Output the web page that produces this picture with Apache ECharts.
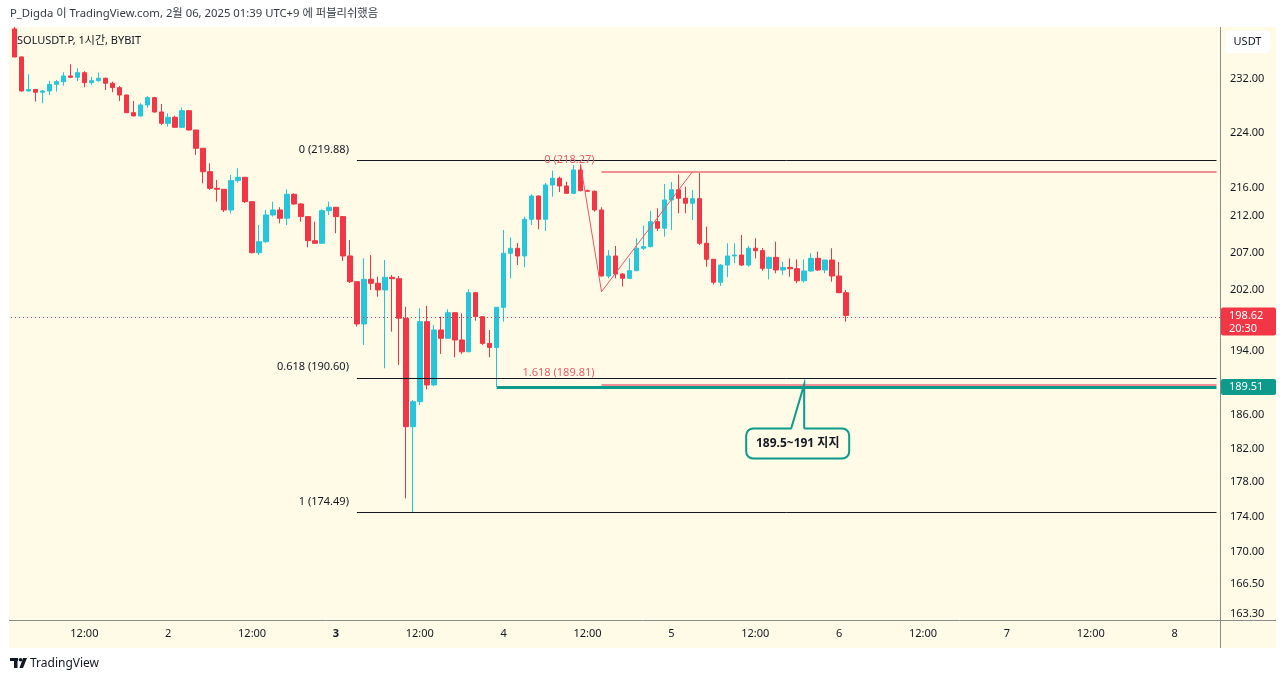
<!DOCTYPE html>
<html>
<head>
<meta charset="utf-8">
<script src="https://cdn.jsdelivr.net/npm/echarts@6/dist/echarts.min.js"></script>
<style>html,body{margin:0;padding:0;background:#fff}#c{width:1280px;height:681px}</style>
</head>
<body>
<div id="c"></div>
<script>
// ---------- data ----------
const startTime = Date.UTC(2025, 1, 1, 2);   // first candle: Feb 1, 02:00
const hourCount = 173;                          // hourly slots shown (to Feb 8, 06:00)
const weekStartDay = 3;                         // Feb 3 (Monday) label is bold
// [open, high, low, close]
const candles = [
 [239.75,240.07,235.30,235.38],[235.38,235.45,230.10,230.18],[230.18,232.72,230.10,230.40],[230.40,230.50,228.57,229.98],
 [229.98,230.33,228.32,230.18],[230.18,231.74,229.57,231.19],[231.19,231.85,230.08,231.59],[231.59,233.02,230.98,232.46],
 [232.46,234.25,232.20,232.26],[232.26,233.64,231.70,232.96],[232.96,233.20,230.74,231.44],[231.44,232.35,231.09,231.74],
 [231.74,232.96,231.59,232.11],[232.11,232.20,230.33,231.35],[231.35,231.59,229.98,230.68],[230.68,230.93,228.67,229.57],
 [229.57,229.62,226.85,226.92],[226.92,228.67,226.40,226.43],[226.43,228.32,226.35,228.07],[228.07,229.42,227.66,229.17],
 [229.17,229.30,226.95,227.02],[227.02,228.22,225.09,225.34],[225.34,226.83,224.84,226.23],[226.23,226.47,224.65,224.75],
 [224.75,227.66,224.65,227.22],[227.22,227.30,224.30,224.35],[224.35,224.40,220.70,221.67],[221.67,221.70,216.63,218.29],
 [218.29,219.50,215.68,215.92],[215.92,217.11,214.03,215.78],[215.78,215.80,212.59,212.87],[212.87,217.82,212.40,217.01],
 [217.01,218.78,216.72,217.49],[217.49,217.50,213.85,214.03],[214.03,214.05,206.87,206.98],[206.98,210.78,206.66,208.48],
 [208.48,212.87,208.30,212.17],[212.17,214.03,211.94,212.87],[212.87,213.25,211.01,211.71],[211.71,215.78,210.78,215.07],
 [215.07,215.21,213.60,213.71],[213.71,213.80,211.24,211.94],[211.94,212.00,207.71,208.62],[208.62,211.24,208.20,208.26],
 [208.26,212.97,208.20,212.77],[212.77,214.03,212.17,213.25],[213.25,213.30,209.64,211.94],[211.94,212.00,205.85,206.53],
 [206.53,208.71,202.90,203.07],[203.07,203.10,197.16,197.51],[197.51,206.22,194.80,203.39],[203.39,206.66,201.97,202.86],
 [202.86,203.74,201.08,201.97],[201.97,205.98,191.84,203.66],[203.66,203.96,196.51,203.47],[203.47,203.83,192.26,198.25],
 [198.25,199.75,176.13,184.62],[184.62,187.89,174.49,187.68],[187.68,199.57,187.27,197.81],[197.81,199.86,189.21,189.75],
 [189.75,197.38,189.60,196.73],[196.73,198.46,193.66,195.66],[195.66,199.42,195.60,198.98],[198.98,199.00,193.24,195.44],
 [195.44,198.90,193.66,193.93],[193.93,202.06,193.90,201.61],[201.61,201.70,197.94,198.46],[198.46,198.50,194.80,195.00],
 [195.00,196.73,193.24,194.49],[194.49,199.70,189.51,199.68],[199.68,210.09,197.81,206.90],[206.90,209.08,203.52,207.58],
 [207.58,208.30,205.30,206.53],[206.53,211.94,204.99,211.57],[211.57,215.07,210.78,214.83],[214.83,214.90,210.19,211.57],
 [211.57,216.67,209.95,216.39],[216.39,218.44,214.73,217.35],[217.35,217.58,215.39,216.25],[216.25,216.86,215.15,215.21],
 [215.21,219.26,215.10,218.54],[218.54,219.33,215.50,215.58],[215.58,215.73,215.40,215.50],[215.50,215.60,212.63,212.87],
 [212.87,213.25,203.80,203.83],[203.83,207.34,203.52,206.53],[206.53,207.89,203.52,204.10],[204.10,204.20,202.41,203.52],
 [203.52,206.21,203.45,204.54],[204.54,208.94,204.50,207.58],[207.58,210.71,207.34,207.80],[207.80,212.75,207.70,211.24],
 [211.24,213.11,209.95,210.33],[210.33,216.53,209.17,214.27],[214.27,216.82,210.09,215.71],[215.71,217.89,212.40,214.51],
 [214.51,216.17,212.40,213.81],[213.81,215.68,211.47,214.45],[214.45,218.27,208.03,208.26],[208.26,210.55,205.07,206.08],
 [206.08,206.10,202.70,203.00],[203.00,205.40,202.50,205.30],[205.30,208.26,203.66,206.53],[206.53,208.26,205.55,206.66],
 [206.66,209.40,205.20,205.30],[205.30,207.89,205.07,207.58],[207.58,208.94,206.21,207.25],[207.25,207.61,204.54,204.86],
 [204.86,206.44,203.39,206.35],[206.35,208.48,204.20,204.64],[204.64,205.73,203.96,204.99],[204.99,206.21,203.74,204.81],
 [204.81,206.07,202.86,203.20],[203.20,206.07,202.94,204.50],[204.50,206.90,204.41,206.21],[206.21,207.12,204.50,204.64],
 [204.64,206.00,204.20,205.98],[205.98,207.58,203.07,203.83],[203.83,205.73,201.53,201.61],[201.61,201.97,197.81,198.62]
];
const yTicks = [232, 224, 216, 212, 207, 202, 194, 186, 182, 178, 174, 170, 166.5, 163.3];
const yMin = 162.6, yMax = 239.9;
const fibRetLevels = [219.88, 190.60, 174.49];
const fibRetNames = ['0 (219.88)', '0.618 (190.60)', '1 (174.49)'];
const fibRetStart = 49;
const fibExtLevels = [218.27, 189.81];
const fibExtNames = ['0 (218.27)', '1.618 (189.81)'];
const fibExtStart = 84;
const trendPoints = [[81, 219.33], [84, 201.74], [97, 218.27]];
const supportStart = 69, supportLevel = 189.51;
const lastPrice = 198.62, countdown = '20:30';
const calloutText = '189.5~191 지지';
const calloutAt = [113, 189.81];
const headerText = 'P_Digda 이 TradingView.com, 2월 06, 2025 01:39 UTC+9 에 퍼블리쉬했음';
const titleText = 'SOLUSDT.P, 1시간, BYBIT';

// ---------- build ----------
const L = Math.log;
const FONT = "'Noto Sans', 'Noto Sans CJK KR', sans-serif";
const UP = '#26c6da', DOWN = '#f23645', TEAL = '#0c9a8b', CREAM = '#fffbe6';
const cats = [];
for (let k = 0; k < hourCount; k++) {
  const d = new Date(startTime + k * 3600000);
  cats.push(d.getUTCDate() + ' ' + String(d.getUTCHours()).padStart(2, '0') + ':00');
}
const kdata = candles.map(c => [L(c[0]), L(c[3]), L(c[2]), L(c[1])]);
const lastIdx = hourCount - 1;

const lines = [];
fibRetLevels.forEach(v => lines.push([{coord: [fibRetStart, L(v)], lineStyle: {color: '#131722', width: 1, type: 'solid'}}, {coord: [lastIdx, L(v)]}]));
fibExtLevels.forEach(v => lines.push([{coord: [fibExtStart, L(v)], lineStyle: {color: '#f28d94', width: 2, type: 'solid'}}, {coord: [lastIdx, L(v)]}]));
for (let k = 0; k < trendPoints.length - 1; k++) {
  lines.push([{coord: [trendPoints[k][0], L(trendPoints[k][1])], lineStyle: {color: '#ef5662', width: 1, type: 'solid'}},
              {coord: [trendPoints[k + 1][0], L(trendPoints[k + 1][1])]}]);
}
lines.push([{coord: [supportStart, L(supportLevel)], lineStyle: {color: TEAL, width: 3, type: 'solid'}}, {coord: [lastIdx, L(supportLevel)]}]);
lines.push({yAxis: L(lastPrice), lineStyle: {color: DOWN, width: 1, type: [1, 3]}});

const chart = echarts.init(document.getElementById('c'), null, {renderer: 'canvas'});
const baseGraphics = [
  {type: 'rect', z: -100, silent: true, shape: {x: 9, y: 27, width: 1267, height: 621}, style: {fill: CREAM}},
  {type: 'text', z: 10, x: 10, y: 14, style: {text: headerText, fill: '#363a45', font: '11.3px ' + FONT, verticalAlign: 'middle'}},
  {type: 'text', z: 10, x: 17, y: 41, style: {text: titleText, fill: '#131722', font: '11px ' + FONT, verticalAlign: 'middle'}},
  {type: 'line', z: 10, shape: {x1: 1220.5, y1: 27, x2: 1220.5, y2: 648}, style: {stroke: '#8a8a8a', lineWidth: 1}},
  {type: 'line', z: 10, shape: {x1: 9, y1: 620.5, x2: 1276, y2: 620.5}, style: {stroke: '#8a8a8a', lineWidth: 1}},
  {type: 'rect', z: 10, shape: {x: 1225, y: 31, width: 45, height: 22, r: 4}, style: {fill: '#ffffff'}},
  {type: 'text', z: 11, x: 1247.5, y: 42, style: {text: 'USDT', fill: '#131722', font: '11px ' + FONT, align: 'center', verticalAlign: 'middle'}},
  // footer logo
  {type: 'rect', z: 10, shape: {x: 10, y: 658, width: 8, height: 3}, style: {fill: '#131722'}},
  {type: 'rect', z: 10, shape: {x: 14, y: 658, width: 3.5, height: 10}, style: {fill: '#131722'}},
  {type: 'circle', z: 10, shape: {cx: 20.5, cy: 659.7, r: 1.8}, style: {fill: '#131722'}},
  {type: 'polygon', z: 10, shape: {points: [[23, 658], [27, 658], [23, 668], [19.5, 668]]}, style: {fill: '#131722'}},
  {type: 'text', z: 10, x: 30, y: 664, style: {text: 'TradingView', fill: '#131722', font: '12px ' + FONT, verticalAlign: 'middle'}}
];

chart.setOption({
  animation: false,
  backgroundColor: '#ffffff',
  grid: {left: 11, right: 60, top: 28, bottom: 61, containLabel: false, outerBoundsMode: 'none'},
  xAxis: {
    type: 'category', data: cats, boundaryGap: true,
    axisLine: {show: false}, axisTick: {show: false}, splitLine: {show: false},
    axisLabel: {
      interval: (i, v) => v.endsWith(' 00:00') || v.endsWith(' 12:00'),
      formatter: v => {
        if (v.endsWith(' 12:00')) return '12:00';
        const day = v.split(' ')[0];
        return Number(day) === weekStartDay ? '{b|' + day + '}' : day;
      },
      rich: {b: {fontWeight: 'bold', fontSize: 11, fontFamily: FONT, color: '#131722'}},
      color: '#131722', fontSize: 11, fontFamily: FONT, margin: 8
    }
  },
  yAxis: {
    type: 'value', position: 'right', min: L(yMin), max: L(yMax), scale: true,
    axisLine: {show: false}, axisTick: {show: false}, splitLine: {show: false},
    axisLabel: {
      customValues: yTicks.map(L),
      formatter: v => Math.exp(v).toFixed(2),
      color: '#131722', fontSize: 11, fontFamily: FONT, margin: 10
    }
  },
  series: [{
    type: 'candlestick', data: kdata, barWidth: 5,
    itemStyle: {color: UP, color0: DOWN, borderColor: UP, borderColor0: DOWN, borderWidth: 1},
    markLine: {symbol: ['none', 'none'], silent: true, animation: false, label: {show: false}, data: lines}
  }],
  graphic: baseGraphics
});

// ---------- annotations positioned through the chart's own scales ----------
const P = (i, v) => chart.convertToPixel({gridIndex: 0}, [i, L(v)]);
const ann = [];
fibRetLevels.forEach((v, k) => {
  const p = P(fibRetStart, v);
  ann.push({type: 'text', z: 20, x: p[0] - 8, y: p[1] - 11, style: {text: fibRetNames[k], fill: '#131722', font: '11px ' + FONT, align: 'right', verticalAlign: 'middle'}});
});
fibExtLevels.forEach((v, k) => {
  const p = P(fibExtStart, v);
  ann.push({type: 'text', z: 20, x: p[0] - 7, y: p[1] - 12, style: {text: fibExtNames[k], fill: '#ea5c67', font: '11px ' + FONT, align: 'right', verticalAlign: 'middle'}});
});
// last price box
const lp = P(0, lastPrice);
ann.push({type: 'rect', z: 20, shape: {x: 1221, y: lp[1] - 8, width: 55, height: 28, r: 2}, style: {fill: DOWN}});
ann.push({type: 'text', z: 21, x: 1229, y: lp[1], style: {text: lastPrice.toFixed(2), fill: '#fff', font: '11px ' + FONT, verticalAlign: 'middle'}});
ann.push({type: 'text', z: 21, x: 1229, y: lp[1] + 13, style: {text: countdown, fill: '#fff', font: '11px ' + FONT, verticalAlign: 'middle'}});
// support box
const sp = P(0, supportLevel);
ann.push({type: 'rect', z: 20, shape: {x: 1221, y: sp[1] - 8, width: 55, height: 16, r: 2}, style: {fill: TEAL}});
ann.push({type: 'text', z: 21, x: 1229, y: sp[1], style: {text: supportLevel.toFixed(2), fill: '#fff', font: '11px ' + FONT, verticalAlign: 'middle'}});
// callout
const tip = P(calloutAt[0], calloutAt[1]);
const bx = tip[0] - 58, by = tip[1] + 44, bw = 103, bh = 30;
ann.push({type: 'rect', z: 20, shape: {x: bx, y: by, width: bw, height: bh, r: 7}, style: {fill: CREAM, stroke: TEAL, lineWidth: 2}});
ann.push({type: 'polygon', z: 21, shape: {points: [[tip[0] - 13, by + 2], [tip[0], tip[1]], [tip[0], by + 2]]}, style: {fill: CREAM}});
ann.push({type: 'polyline', z: 22, shape: {points: [[tip[0] - 13, by], [tip[0], tip[1]], [tip[0], by]]}, style: {stroke: TEAL, lineWidth: 2, fill: null}});
ann.push({type: 'text', z: 22, x: bx + bw / 2, y: by + bh / 2, style: {text: calloutText, fill: '#131722', font: 'bold 12px ' + FONT, align: 'center', verticalAlign: 'middle'}});

chart.setOption({graphic: baseGraphics.concat(ann)});
</script>
</body>
</html>
